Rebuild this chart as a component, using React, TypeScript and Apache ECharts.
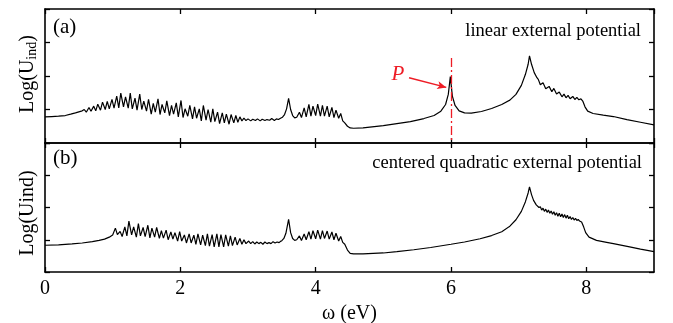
import React, { useEffect, useRef } from "react";
import * as echarts from "echarts";

// ---------- data: panel (a) linear external potential (x: eV, y: log units) ----------
const aLow = [[0,0.78],[0.1,0.79],[0.2,0.80],[0.3,0.82],[0.38,0.86],[0.45,0.9],[0.5,0.93],[0.55,0.96]];
const aBand1 = [[0.58,1.00],[0.61,0.92],[0.65,1.06],[0.68,0.95],[0.72,1.10],[0.75,0.96],[0.78,1.16],[0.82,0.98],[0.85,1.22],[0.89,1.00],[0.92,1.24],[0.95,1.02],[0.99,1.30],[1.02,1.04],[1.06,1.40],[1.09,1.05],[1.12,1.49],[1.16,1.08],[1.19,1.38],[1.23,1.04],[1.26,1.49],[1.29,1.02],[1.33,1.34],[1.36,0.98],[1.40,1.46],[1.43,1.00],[1.46,1.25],[1.50,0.95],[1.53,1.30],[1.57,0.86],[1.60,1.18],[1.63,0.92],[1.67,1.32],[1.70,0.85],[1.73,1.15],[1.77,0.90],[1.80,1.26],[1.84,0.82],[1.87,1.12],[1.90,0.86],[1.94,1.20],[1.97,0.78],[2.01,1.27],[2.04,0.76],[2.07,1.02],[2.11,0.80],[2.14,1.12],[2.18,0.72],[2.21,1.08],[2.24,0.74],[2.28,1.02],[2.31,0.66],[2.34,1.12],[2.38,0.68],[2.41,1.00],[2.45,0.62],[2.48,1.02],[2.51,0.64],[2.55,0.92],[2.58,0.58],[2.62,0.90],[2.65,0.60],[2.68,0.86],[2.72,0.56],[2.75,0.85],[2.79,0.60],[2.82,0.82],[2.85,0.62],[2.88,0.78],[2.91,0.66]];
const aNoise = [[2.94,0.74],[2.97,0.67],[3.00,0.72],[3.04,0.66],[3.07,0.71],[3.11,0.67],[3.14,0.72],[3.18,0.66],[3.21,0.71],[3.25,0.67],[3.28,0.70],[3.32,0.68],[3.35,0.73],[3.39,0.67],[3.42,0.72],[3.45,0.70],[3.48,0.74],[3.51,0.77],[3.54,0.85],[3.57,1.02],[3.60,1.33],[3.63,1.00],[3.66,0.82],[3.69,0.75]];
const aBand2 = [[3.72,0.77],[3.76,0.92],[3.79,0.76],[3.83,1.05],[3.86,0.78],[3.90,1.15],[3.93,0.80],[3.96,1.10],[4.00,0.82],[4.03,1.16],[4.07,0.80],[4.10,1.12],[4.13,0.80],[4.17,1.10],[4.20,0.78],[4.24,1.06],[4.27,0.76],[4.30,0.98],[4.34,0.74],[4.37,0.88],[4.40,0.66],[4.43,0.60],[4.47,0.50],[4.51,0.45],[4.56,0.44]];
const aTail = [[4.7,0.45],[5.0,0.52],[5.2,0.58],[5.4,0.64],[5.6,0.73],[5.75,0.82],[5.85,0.95],[5.92,1.15],[5.96,1.45],[5.99,1.98],[6.02,1.40],[6.06,1.12],[6.12,0.96],[6.2,0.90],[6.3,0.89],[6.45,0.94],[6.6,1.03],[6.75,1.15],[6.87,1.28],[6.96,1.45],[7.04,1.72],[7.1,2.05],[7.14,2.35],[7.16,2.6],[7.19,2.35],[7.23,2.10],[7.27,1.95],[7.29,1.90],[7.32,1.74],[7.36,1.80],[7.40,1.62],[7.45,1.69],[7.49,1.53],[7.52,1.63],[7.56,1.46],[7.60,1.52],[7.64,1.38],[7.67,1.46],[7.70,1.35],[7.73,1.42],[7.76,1.32],[7.80,1.39],[7.83,1.30],[7.86,1.36],[7.89,1.29],[7.92,1.32],[7.95,1.24],[7.98,1.08],[8.02,0.95],[8.1,0.88],[8.25,0.83],[8.4,0.79],[8.6,0.70],[8.8,0.62],[9.0,0.54]];

// ---------- data: panel (b) centered quadratic external potential ----------
const bLow = [[0,0.83],[0.2,0.84],[0.4,0.87],[0.55,0.9],[0.7,0.94],[0.8,0.98],[0.88,1.02],[0.95,1.08],[1.0,1.15]];
const bBand1 = [[1.04,1.36],[1.07,1.16],[1.11,1.26],[1.14,1.10],[1.18,1.40],[1.21,1.12],[1.24,1.58],[1.28,1.15],[1.31,1.40],[1.35,1.08],[1.38,1.50],[1.41,1.12],[1.45,1.38],[1.48,1.10],[1.52,1.45],[1.55,1.06],[1.58,1.36],[1.62,1.08],[1.65,1.38],[1.69,1.04],[1.72,1.28],[1.75,1.05],[1.79,1.30],[1.82,1.00],[1.86,1.24],[1.89,1.02],[1.92,1.22],[1.96,0.96],[1.99,1.25],[2.02,0.96],[2.06,1.15],[2.09,0.90],[2.13,1.18],[2.16,0.90],[2.20,1.14],[2.23,0.86],[2.26,1.18],[2.30,0.84],[2.33,1.14],[2.37,0.82],[2.40,1.18],[2.43,0.80],[2.47,1.16],[2.50,0.78],[2.54,1.18],[2.57,0.78],[2.60,1.16],[2.64,0.78],[2.67,1.15],[2.71,0.80],[2.74,1.12],[2.77,0.82],[2.81,1.08],[2.84,0.84],[2.88,1.04],[2.91,0.86],[2.94,1.00],[2.97,0.88]];
const bNoise = [[3.01,0.96],[3.04,0.88],[3.07,0.94],[3.10,0.87],[3.13,0.93],[3.16,0.88],[3.19,0.92],[3.22,0.86],[3.25,0.93],[3.28,0.88],[3.31,0.91],[3.34,0.88],[3.37,0.94],[3.40,0.90],[3.43,0.93],[3.46,0.91],[3.48,0.95],[3.50,0.97],[3.53,1.04],[3.56,1.20],[3.60,1.63],[3.63,1.22],[3.66,1.04],[3.69,0.98]];
const bBand2 = [[3.72,1.00],[3.76,1.12],[3.79,0.98],[3.83,1.18],[3.86,1.00],[3.90,1.25],[3.93,1.02],[3.96,1.28],[4.00,1.03],[4.03,1.30],[4.07,1.02],[4.10,1.28],[4.13,1.04],[4.17,1.27],[4.20,1.02],[4.24,1.24],[4.27,1.00],[4.30,1.20],[4.34,0.96],[4.37,1.10],[4.40,0.92],[4.43,0.86],[4.47,0.68],[4.51,0.58],[4.56,0.56]];
const bTail = [[4.7,0.56],[5.0,0.59],[5.2,0.63],[5.45,0.69],[5.7,0.76],[6.0,0.86],[6.2,0.93],[6.43,1.03],[6.6,1.13],[6.75,1.25],[6.87,1.42],[6.96,1.62],[7.04,1.88],[7.1,2.18],[7.14,2.45],[7.16,2.64],[7.19,2.40],[7.22,2.22],[7.26,2.08],[7.30,2.00],[7.32,2.02],[7.34,1.92],[7.36,1.98],[7.38,1.88],[7.40,1.95],[7.42,1.85],[7.44,1.92],[7.46,1.82],[7.48,1.89],[7.50,1.79],[7.52,1.87],[7.54,1.76],[7.56,1.84],[7.58,1.73],[7.60,1.82],[7.62,1.71],[7.64,1.80],[7.66,1.69],[7.68,1.78],[7.70,1.67],[7.72,1.76],[7.74,1.65],[7.76,1.72],[7.78,1.63],[7.80,1.69],[7.82,1.61],[7.84,1.66],[7.86,1.60],[7.88,1.63],[7.90,1.58],[7.93,1.55],[7.96,1.40],[7.99,1.22],[8.04,1.08],[8.15,0.98],[8.3,0.92],[8.4,0.88],[8.64,0.78],[8.8,0.71],[9.0,0.63]];

// annotation anchors (data coordinates of panel a)
const markerP = [6, 2.54];
const arrowFrom = [5.38, 1.95];
const arrowTo = [5.93, 1.66];

const xTicks = { min: 0, max: 9, interval: 2 };
const yTicks = { min: 0, max: 4, interval: 1 };

const FONT = "Liberation Serif";
const RED = "#ee1c25";

export default function App() {
  const ref = useRef<HTMLDivElement>(null);
  useEffect(() => {
    if (!ref.current) return;
    const chart = echarts.init(ref.current, null, { renderer: "svg" });
    const axLine = { show: true, lineStyle: { color: "#000", width: 1.6 } };
    const axTick = { show: true, inside: true, length: 5, lineStyle: { color: "#000", width: 1.3 } };
    const mkX = (gridIndex: number, position: string, labels: boolean, extra: any = {}) => ({
      type: "value", gridIndex, position, ...xTicks,
      axisLine: { ...axLine, onZero: false }, axisTick: axTick, splitLine: { show: false },
      axisLabel: {
        show: labels, color: "#000", fontSize: 20, fontFamily: FONT, margin: 5,
        showMaxLabel: false,
        formatter: (v: number) => (v % 2 === 0 ? String(v) : ""),
      },
      ...extra,
    });
    const mkY = (gridIndex: number, position: string) => ({
      type: "value", gridIndex, position, ...yTicks,
      axisLine: { ...axLine, onZero: false }, axisTick: axTick, splitLine: { show: false },
      axisLabel: { show: false },
    });
    const seriesA = [...aLow, ...aBand1, ...aNoise, ...aBand2, ...aTail];
    const seriesB = [...bLow, ...bBand1, ...bNoise, ...bBand2, ...bTail];
    const lineStyle = { color: "#000", width: 1.2 };
    const txt = (text: string, size: number, extra: any = {}) => ({
      text, fontFamily: FONT, fontSize: size, fill: "#000", align: "left", verticalAlign: "middle", ...extra,
    });
    const ylabel = (cy: number, sub: boolean) =>
      sub
        ? {
            type: "group", x: 26, y: cy, rotation: Math.PI / 2,
            children: [
              { type: "text", x: -39, y: 0, style: txt("Log(U", 20) },
              { type: "text", x: 14.3, y: 5, style: txt("ind", 14) },
              { type: "text", x: 32.2, y: 0, style: txt(")", 20) },
            ],
          }
        : {
            type: "text", x: 26, y: cy, rotation: Math.PI / 2,
            style: txt("Log(Uind)", 20, { align: "center" }),
          };
    chart.setOption({
      animation: false,
      grid: [
        { left: 45, top: 9, width: 609, height: 134 },
        { left: 45, top: 143, width: 609, height: 133 },
      ],
      xAxis: [
        mkX(0, "bottom", false),
        mkX(0, "top", false),
        mkX(1, "bottom", true, {
          name: "ω (eV)", nameLocation: "middle", nameGap: 30,
          nameTextStyle: { color: "#000", fontSize: 20, fontFamily: FONT },
        }),
        mkX(1, "top", false),
      ],
      yAxis: [mkY(0, "left"), mkY(0, "right"), mkY(1, "left"), mkY(1, "right")],
      series: [
        {
          type: "line", xAxisIndex: 0, yAxisIndex: 0, data: seriesA, showSymbol: false,
          lineStyle, silent: true,
          markLine: {
            silent: true, symbol: ["none", "none"], label: { show: false },
            data: [
              [
                { coord: markerP, lineStyle: { color: RED, width: 1.3, type: [9, 3, 2, 3] } },
                { coord: [markerP[0], 0] },
              ],
              [
                { coord: arrowFrom, symbol: "none", lineStyle: { color: RED, width: 1.5, type: "solid" } },
                { coord: arrowTo, symbol: "arrow", symbolSize: [6, 9] },
              ],
            ],
          },
        },
        {
          type: "line", xAxisIndex: 2, yAxisIndex: 2, data: seriesB, showSymbol: false,
          lineStyle, silent: true,
        },
      ],
      graphic: [
        { type: "text", x: 53, y: 26, style: txt("(a)", 21) },
        { type: "text", x: 53, y: 157, style: txt("(b)", 21) },
        { type: "text", x: 641, y: 30, style: txt("linear external potential", 18.5, { align: "right" }) },
        { type: "text", x: 642, y: 162, style: txt("centered quadratic external potential", 18.5, { align: "right" }) },
        { type: "text", x: 398, y: 73, style: txt("P", 21, { fill: RED, align: "center", fontStyle: "italic" }) },
        ylabel(74, true),
        ylabel(213, false),
      ],
    });
    return () => chart.dispose();
  }, []);
  return <div ref={ref} style={{ position: "fixed", left: 0, top: 0, width: 673, height: 323 }} />;
}
